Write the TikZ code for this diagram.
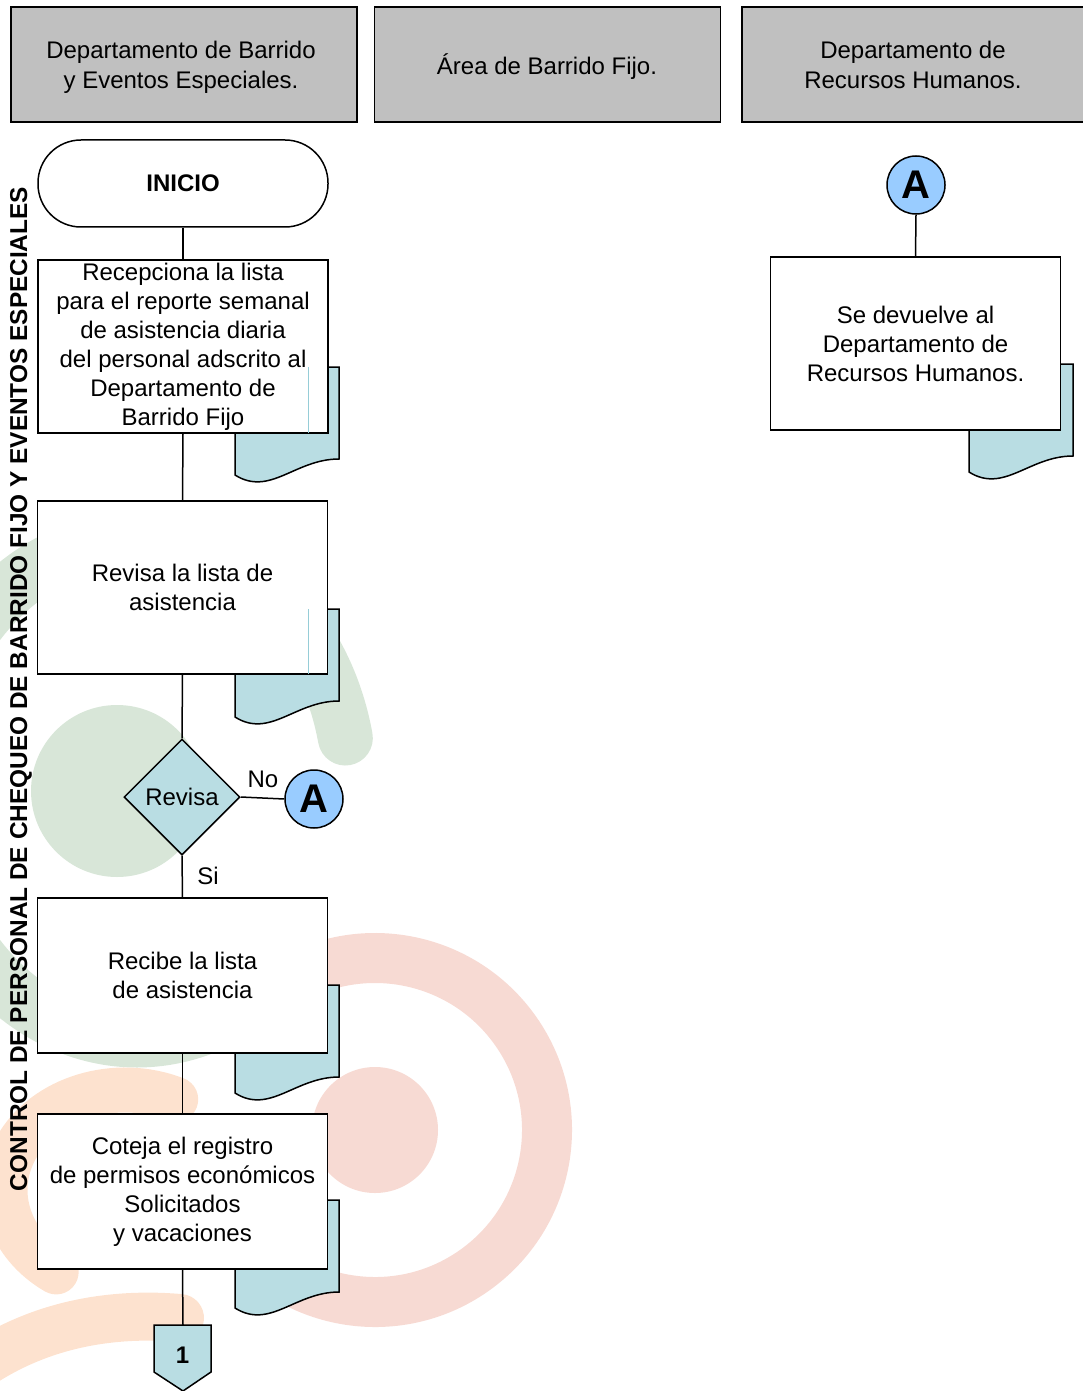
\documentclass[tikz,border=0pt]{standalone}
\usepackage{fontspec}
\setmainfont{Liberation Sans}
\usepackage{tikz}
\usetikzlibrary{positioning,shapes.geometric}

\definecolor{headgray}{RGB}{192,192,192}
\definecolor{docteal}{RGB}{185,221,227}
\definecolor{ghostteal}{RGB}{150,205,215}
\definecolor{connblue}{RGB}{153,204,255}
\definecolor{wmgreen}{RGB}{216,230,216}
\definecolor{wmred}{RGB}{247,218,211}
\definecolor{wmorange}{RGB}{253,226,207}

\tikzset{
  header/.style={draw, line width=0.9pt, fill=headgray, minimum width=173pt, minimum height=57.5pt, inner sep=0pt},
  headtext/.style={align=center, inner sep=0pt, font=\fontsize{12}{15}\selectfont},
  proc/.style={draw, line width=0.75pt, fill=white, minimum width=145pt, align=center, inner sep=0pt, font=\fontsize{12}{14.5}\selectfont},
  terminal/.style={draw, line width=0.75pt, fill=white, rounded corners=21.5pt, minimum width=145pt, minimum height=43.5pt, inner sep=0pt, font=\fontsize{12}{14}\selectfont\bfseries},
  decision/.style={diamond, draw, line width=0.75pt, fill=docteal, minimum width=58pt, minimum height=58pt, inner sep=0pt, font=\fontsize{12}{14}\selectfont},
  connA/.style={circle, draw, line width=0.75pt, fill=connblue, minimum size=29pt, inner sep=0pt, font=\fontsize{20}{20}\selectfont\bfseries},
  flow/.style={line width=0.75pt},
  lbl/.style={inner sep=0pt, font=\fontsize{12}{14}\selectfont},
  ghost/.style={ghostteal, line width=0.4pt},
  docpage/.pic={
    \draw[line width=0.75pt, fill=docteal] (0,0) -- (104,0) -- (104,-92) .. controls (60,-92) and (35,-130) .. (0,-108) -- cycle;
  },
}

\begin{document}
\begin{tikzpicture}[x=0.5pt,y=0.5pt,yscale=-1]
\useasboundingbox (0,0) rectangle (1082,1391);

%Watermark: green
\fill[wmgreen] (117,791) circle (86);
\draw[wmgreen, line width=27.5pt, line cap=round] (137,790) ++(-12:213 and 250) arc[start angle=-12, end angle=-300, x radius=213, y radius=250];
%Watermark: red
\draw[wmred, line width=25pt] (375,1130) ++(-125:172) arc[start angle=-125, end angle=145, radius=172];
\fill[wmred] (375,1130) circle (63);
%Watermark: orange
\draw[wmorange, line width=22.5pt, line cap=round] (125,1190) ++(-65:120 and 100) arc[start angle=-65, end angle=-235, x radius=120, y radius=100];
\draw[wmorange, line width=24pt, line cap=round] (180,1318) .. controls (110,1312) and (40,1325) .. (-20,1365);

%Lane headers
\node[header] (hbarrido) at (184,64.5) {};
\node[header] (hfijo) at (547.5,64.5) {};
\node[header] (hrecursos) at (915,64.5) {};
% Text Node
\node[headtext] (tbarrido) at (181,67) {Departamento de Barrido\\y Eventos Especiales.};
\node[headtext] (tfijo) at (547,67) {Área de Barrido Fijo.};
\node[headtext] (trecursos) at (913,65) {Departamento de\\Recursos Humanos.};

% Text Node
\node[rotate=90, inner sep=0pt, font=\fontsize{12.2}{12}\selectfont\bfseries] (lanetitle) at (21,689) {CONTROL DE PERSONAL DE CHEQUEO DE BARRIDO FIJO Y EVENTOS ESPECIALES};

%Shape: Document pages
\pic at (235,367) {docpage};
\pic at (235,609) {docpage};
\pic at (235,985) {docpage};
\pic at (235,1200) {docpage};
\pic at (969,364) {docpage};

%Flow: first lane
\node[terminal] (inicio) at (183,183.5) {INICIO};
\node[proc, minimum height=86.5pt] (recepciona) at (183,346.5) {Recepciona la lista\\para el reporte semanal\\de asistencia diaria\\del personal adscrito al\\Departamento de\\Barrido Fijo};
\node[proc, minimum height=86.5pt] (revisalista) at (182.5,587.5) {Revisa la lista de\\asistencia};
\node[decision] (revisa) at (182,797) {Revisa};
\node[connA] (conA) at (314,799) {A};
\node[proc, minimum height=77.5pt] (recibe) at (182.5,975.5) {Recibe la lista\\de asistencia};
\node[proc, minimum height=77.5pt] (coteja) at (182.5,1191.5) {Coteja el registro\\de permisos económicos\\Solicitados\\y vacaciones};
\draw[ghost] (308,367) -- (308,433);
\draw[ghost] (308,609) -- (308,674);

%Shape: off-page connector
\coordinate (offtop) at (183,1325);
\draw[line width=0.75pt, fill=docteal] (154,1325) -- (211,1325) -- (211,1372) -- (183,1391) -- (154,1372) -- cycle;
\node[inner sep=0pt, font=\fontsize{12}{14}\selectfont\bfseries] (pagina) at (182.5,1355) {1};

% Text Node
\node[lbl] (lblno) at (263,779) {No};
\node[lbl] (lblsi) at (208,876) {Si};

%Flow: third lane
\node[connA] (conAdos) at (916,185) {A};
\node[proc, minimum height=86.5pt] (devuelve) at (915.5,343.5) {Se devuelve al\\Departamento de\\Recursos Humanos.};

%Connectors
\draw[flow] (inicio.south) -- (recepciona.north);
\draw[flow] (recepciona.south) -- (revisalista.north);
\draw[flow] (revisalista.south) -- (revisa.north);
\draw[flow] (revisa.east) -- (conA.west);
\draw[flow] (revisa.south) -- (recibe.north);
\draw[flow] (recibe.south) -- (coteja.north);
\draw[flow] (coteja.south) -- (offtop);
\draw[flow] (conAdos.south) -- (devuelve.north);

\end{tikzpicture}
\end{document}
